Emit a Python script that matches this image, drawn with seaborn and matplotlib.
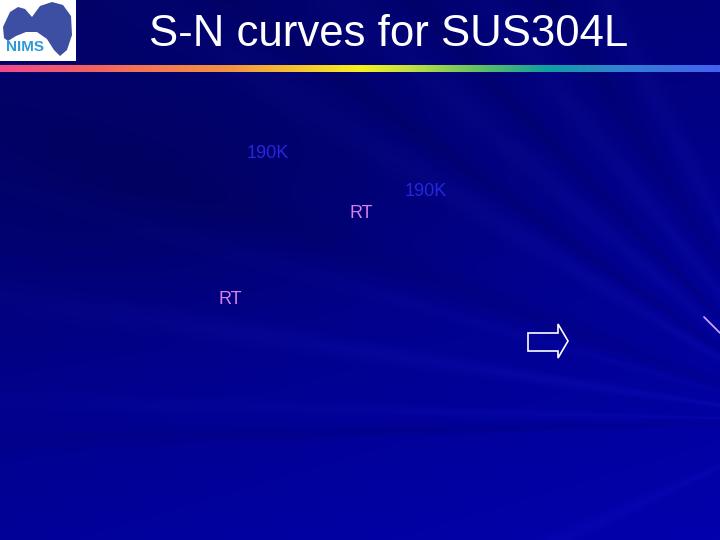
import numpy as np
import matplotlib
matplotlib.use("Agg")
import matplotlib.pyplot as plt
import seaborn as sns
import pandas as pd
from matplotlib.colors import LinearSegmentedColormap
from matplotlib.patches import Polygon, Rectangle

# ---- content ----
title_text = "S-N curves for SUS304L"
logo_text = "NIMS"
label_texts = ["190K", "190K", "RT", "RT"]
label_x = [268, 426, 361, 230]
label_y = [153, 191, 214, 299]
label_colors = ["#2626dc", "#2626dc", "#da80e6", "#da80e6"]
rainbow_colors = ["#f04a8c", "#f26262", "#f29440", "#f8f020", "#c2e040",
                  "#5cc064", "#10a0a0", "#3282d2", "#4262f0"]
rainbow_stops = [0.0, 0.13, 0.32, 0.50, 0.57, 0.67, 0.76, 0.86, 1.0]
arrow_x = [528, 558, 558, 568, 558, 558, 528]
arrow_y = [333, 333, 324, 341, 358, 351, 351]
seg_x = [704, 720]
seg_y = [317, 333]

sns.set_theme(style="white")
plt.rcParams['font.family'] = ['Liberation Sans', 'DejaVu Sans']

fig = plt.figure(figsize=(7.2, 5.4), dpi=100)
ax = fig.add_axes([0, 0, 1, 1])
ax.set_xlim(0, 720)
ax.set_ylim(540, 0)
ax.axis('off')

# ---- background ----
H, W = 540, 720
yy, xx = np.mgrid[0:H, 0:W].astype(float)
xn, yn = xx / W, yy / H
b = 0.40 + 0.20 * yn + 0.08 * xn
b -= 0.08 * np.exp(-(((xx - 170) / 260) ** 2 + ((yy - 190) / 110) ** 2))
theta = np.arctan2(420 - yy, 820 - xx)
dist = np.hypot(820 - xx, 420 - yy)
streaks = [(0.024, 0.012, 0.03), (-0.024, 0.012, -0.06), (0.15, 0.02, 0.04),
           (-0.43, 0.03, 0.03), (0.55, 0.03, 0.03), (0.62, 0.02, -0.05),
           (0.72, 0.03, 0.03), (0.80, 0.02, -0.05), (0.90, 0.03, 0.03),
           (1.00, 0.03, -0.04), (1.10, 0.03, 0.03), (0.35, 0.04, -0.04),
           (0.28, 0.02, 0.02)]
s = np.zeros_like(b)
for t0, w, a in streaks:
    s += a * np.exp(-((theta - t0) / w) ** 2)
s *= np.clip(1.3 - dist / 900, 0.2, 1.0)
b = np.clip(b + s, 0, 1)
rg = np.clip(0.005 + 0.5 * np.clip(s, 0, None), 0, 1)
bg = np.dstack([rg, rg, b])
ax.imshow(bg, extent=[0, 720, 540, 0], aspect='auto', zorder=0)

# ---- rainbow rule ----
cmap = LinearSegmentedColormap.from_list("rb", list(zip(rainbow_stops, rainbow_colors)))
grad = np.linspace(0, 1, 720)[None, :]
ax.imshow(grad, cmap=cmap, extent=[0, 720, 72, 65], aspect='auto', zorder=1)

# ---- logo ----
ax.add_patch(Rectangle((0, 0), 76, 61, facecolor="white", edgecolor="none", zorder=2))
logo_poly = [(3, 27), (10, 12), (18, 7), (25, 9), (32, 17), (40, 6), (52, 2), (63, 5),
             (71, 16), (72, 35), (67, 50), (60, 56), (54, 50), (47, 39), (37, 32),
             (26, 32), (16, 36), (8, 41), (4, 38)]
ax.add_patch(Polygon(logo_poly, closed=True, facecolor="#3c4fa2", edgecolor="none", zorder=3))
ax.text(25, 47, logo_text, color="#2e9ad8", fontsize=11, fontweight="bold",
        ha="center", va="center", zorder=4)

# ---- title ----
ax.text(389, 35, title_text, color="white", fontsize=31.5, ha="center", va="center", zorder=4)

# ---- labels ----
for t, x, y, c in zip(label_texts, label_x, label_y, label_colors):
    ax.text(x, y, t, color=c, fontsize=13, ha="center", va="center", zorder=4)

# ---- arrow ----
ax.add_patch(Polygon(list(zip(arrow_x, arrow_y)), closed=True, fill=False,
                     edgecolor="white", linewidth=1.2, zorder=4))

# ---- diagonal segment ----
seg = pd.DataFrame({"x": seg_x, "y": seg_y})
sns.lineplot(data=seg, x="x", y="y", ax=ax, color="#d8a8ff", linewidth=1.2,
             estimator=None, sort=False, zorder=4)
ax.set_xlim(0, 720)
ax.set_ylim(540, 0)
ax.axis('off')

fig.savefig("out.png", dpi=100)
